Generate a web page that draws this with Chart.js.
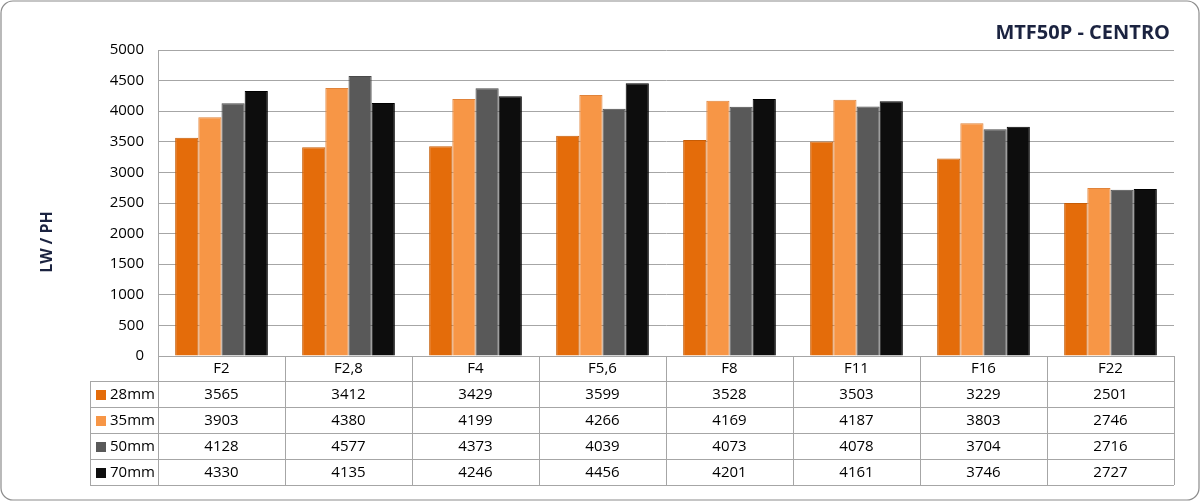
<!DOCTYPE html>
<html lang="it">
<head>
<meta charset="UTF-8">
<title>MTF50P - CENTRO</title>
<script src="https://cdn.jsdelivr.net/npm/chart.js"></script>
<style>
    body { margin: 0; padding: 0; background: #fff; }
    #wrap { width: 1200px; height: 501px; }
</style>
</head>
<body>
<div id="wrap"><canvas id="myChart" width="1200" height="501"></canvas></div>
<script>
// data
const apertures = ['F2', 'F2,8', 'F4', 'F5,6', 'F8', 'F11', 'F16', 'F22'];
const lenses = ['28mm', '35mm', '50mm', '70mm'];
const mm28 = [3565, 3412, 3429, 3599, 3528, 3503, 3229, 2501];
const mm35 = [3903, 4380, 4199, 4266, 4169, 4187, 3803, 2746];
const mm50 = [4128, 4577, 4373, 4039, 4073, 4078, 3704, 2716];
const mm70 = [4330, 4135, 4246, 4456, 4201, 4161, 3746, 2727];
const colors = ['#E46C0A', '#F79646', '#595959', '#0D0D0D'];
const borders = ['#C65C06', '#E0833A', '#4A4A4A', '#000000'];

const series = [mm28, mm35, mm50, mm70];
const font = "'Open Sans', 'Noto Sans', sans-serif";
const navy = '#1B2340';

// draws the title, the y title, the data table and the outer frame
const tablePlugin = {
    id: 'tablePlugin',
    afterDraw(chart) {
        const ctx = chart.ctx;
        const area = chart.chartArea;
        const n = apertures.length;
        const w = (area.right - area.left) / n;
        const headH = 25, rowH = 26;
        const tTop = area.bottom + headH;
        const tBot = tTop + rowH * lenses.length;
        const leftCol = 90;

        ctx.save();
        ctx.strokeStyle = '#A6A6A6';
        ctx.lineWidth = 1;
        ctx.beginPath();
        // bottom axis line
        ctx.moveTo(area.left, area.bottom + 0.5);
        ctx.lineTo(area.right, area.bottom + 0.5);
        // row lines
        for (let r = 0; r <= lenses.length; r++) {
            const y = Math.round(tTop + r * rowH) + 0.5;
            ctx.moveTo(leftCol, y);
            ctx.lineTo(area.right, y);
        }
        // vertical lines
        for (let i = 0; i <= n; i++) {
            const x = Math.round(area.left + i * w) + 0.5;
            ctx.moveTo(x, area.bottom);
            ctx.lineTo(x, tBot);
        }
        ctx.moveTo(leftCol + 0.5, tTop);
        ctx.lineTo(leftCol + 0.5, tBot);
        ctx.stroke();

        ctx.font = '15px ' + font;
        ctx.textBaseline = 'middle';
        for (let r = 0; r < lenses.length; r++) {
            const cy = tTop + r * rowH + rowH / 2 + 1;
            ctx.fillStyle = colors[r];
            ctx.fillRect(96, cy - 5, 10, 10);
            ctx.fillStyle = '#000';
            ctx.textAlign = 'left';
            ctx.fillText(lenses[r], 110, cy);
            ctx.textAlign = 'center';
            for (let i = 0; i < n; i++) {
                ctx.fillText(String(series[r][i]), area.left + i * w + w / 2, cy);
            }
        }

        // chart title
        ctx.fillStyle = navy;
        ctx.font = 'bold 20px ' + font;
        ctx.textAlign = 'right';
        ctx.fillText('MTF50P - CENTRO', 1170, 33);

        // y axis title
        ctx.save();
        ctx.translate(47, 242);
        ctx.rotate(-Math.PI / 2);
        ctx.textAlign = 'center';
        ctx.font = 'bold 16px ' + font;
        ctx.fillText('LW / PH', 0, 0);
        ctx.restore();

        // outer frame
        ctx.strokeStyle = '#8C8C8C';
        ctx.lineWidth = 1.2;
        ctx.beginPath();
        ctx.roundRect(1, 1, 1198, 499, 12);
        ctx.stroke();
        ctx.restore();
    }
};

const datasets = lenses.map(function(name, i) {
    return {
        label: name,
        data: series[i],
        backgroundColor: colors[i],
        borderColor: borders[i],
        borderWidth: 1,
        categoryPercentage: 0.73,
        barPercentage: 1.0
    };
});

new Chart(document.getElementById('myChart'), {
    type: 'bar',
    data: { labels: apertures, datasets: datasets },
    plugins: [tablePlugin],
    options: {
        responsive: false,
        animation: false,
        layout: { padding: { top: 50, right: 26, bottom: 120, left: 0 } },
        plugins: {
            legend: { display: false },
            tooltip: { enabled: false },
            title: { display: false }
        },
        scales: {
            x: {
                grid: { display: false, drawTicks: false },
                border: { display: false },
                ticks: { color: '#000', font: { family: font, size: 15 }, padding: 4 },
                afterFit: function(scale) { scale.height = 25; }
            },
            y: {
                min: 0,
                max: 5000,
                ticks: {
                    stepSize: 500, color: '#000', font: { family: font, size: 15 }, padding: 14,
                    callback: function(v) { return String(v); }
                },
                grid: { color: '#A6A6A6', drawTicks: false },
                border: { display: true, color: '#A6A6A6' },
                afterFit: function(scale) { scale.width = 158; }
            }
        }
    }
});
</script>
</body>
</html>
